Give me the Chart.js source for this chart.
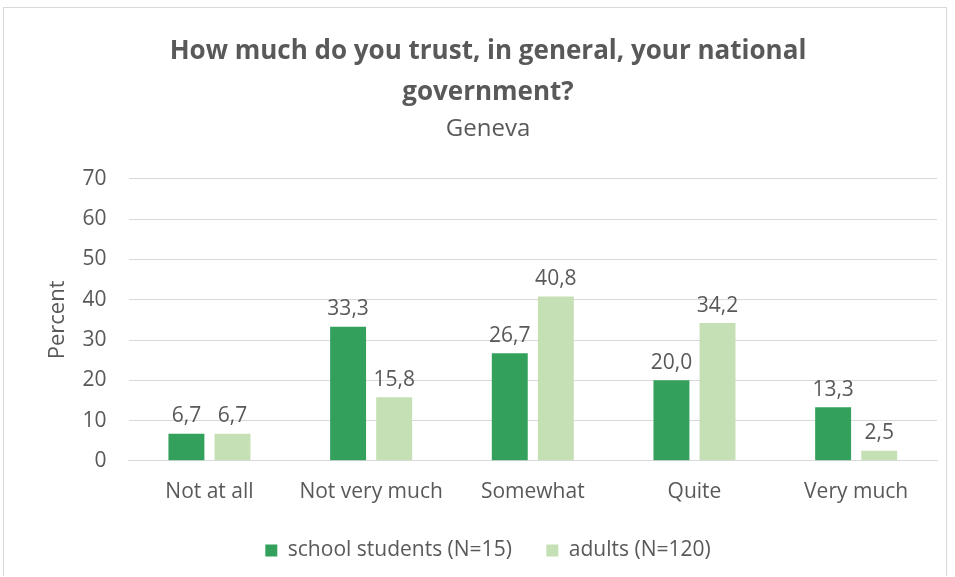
<!DOCTYPE html>
<html lang="en">
    <head>
        <meta charset="UTF-8" />
        <title>Trust in national government - Geneva</title>
        <script src="https://cdn.jsdelivr.net/npm/chart.js"></script>
        <style>
            body {
                margin: 0;
                background: #ffffff;
            }
            .chart-container {
                position: absolute;
                left: 3px;
                top: 7px;
                width: 944px;
                height: 569px;
                border: 1px solid #d9d9d9;
                border-bottom: none;
                box-sizing: border-box;
            }
            canvas {
                height: 100%;
                width: 100%;
            }
        </style>
    </head>
    <body>
        <div class="chart-container">
            <canvas id="trustChart"></canvas>
        </div>

        <script>
            const categories = ["Not at all", "Not very much", "Somewhat", "Quite", "Very much"];
            const students = [6.7, 33.3, 26.7, 20.0, 13.3];
            const adults = [6.7, 15.8, 40.8, 34.2, 2.5];
            const seriesNames = ["school students (N=15)", "adults (N=120)"];

            const textColor = "#595959";
            const fontFamily = "'Open Sans', sans-serif";

            // draws the value above every bar, with a comma as decimal mark
            const valueLabels = {
                id: "valueLabels",
                afterDatasetsDraw(chart) {
                    const ctx = chart.ctx;
                    ctx.save();
                    ctx.font = "21px " + fontFamily;
                    ctx.fillStyle = textColor;
                    ctx.textAlign = "center";
                    ctx.textBaseline = "bottom";
                    chart.data.datasets.forEach((ds, i) => {
                        chart.getDatasetMeta(i).data.forEach((bar, j) => {
                            const txt = ds.data[j].toFixed(1).replace(".", ",");
                            ctx.fillText(txt, bar.x, bar.y - 7);
                        });
                    });
                    ctx.restore();
                },
            };

            const ctx = document.getElementById("trustChart").getContext("2d");
            new Chart(ctx, {
                type: "bar",
                data: {
                    labels: categories,
                    datasets: [
                        {
                            label: seriesNames[0],
                            data: students,
                            backgroundColor: "#33a05b",
                            barPercentage: 0.78,
                            categoryPercentage: 0.57,
                        },
                        {
                            label: seriesNames[1],
                            data: adults,
                            backgroundColor: "#c5e0b4",
                            barPercentage: 0.78,
                            categoryPercentage: 0.57,
                        },
                    ],
                },
                options: {
                    responsive: true,
                    maintainAspectRatio: false,
                    animation: false,
                    layout: {
                        padding: { left: 35, right: 9, top: 15, bottom: 5 },
                    },
                    plugins: {
                        title: {
                            display: true,
                            text: ["How much do you trust, in general, your national", "government?"],
                            color: textColor,
                            font: { family: fontFamily, size: 26, weight: "bold", lineHeight: 1.58 },
                            padding: { top: 8, bottom: 2 },
                        },
                        subtitle: {
                            display: true,
                            text: "Geneva",
                            color: textColor,
                            font: { family: fontFamily, size: 24 },
                            padding: { top: 0, bottom: 35 },
                        },
                        legend: {
                            position: "bottom",
                            labels: {
                                color: textColor,
                                font: { family: fontFamily, size: 21 },
                                boxWidth: 12,
                                boxHeight: 12,
                                padding: 24,
                                // a little extra room between the two entries
                                generateLabels(chart) {
                                    const items = Chart.defaults.plugins.legend.labels.generateLabels(chart);
                                    items[0].text += "\u2002";
                                    return items;
                                },
                            },
                        },
                        tooltip: { enabled: false },
                    },
                    scales: {
                        x: {
                            grid: { display: false },
                            border: { color: "#d9d9d9" },
                            ticks: {
                                color: textColor,
                                font: { family: fontFamily, size: 21 },
                                padding: 11,
                            },
                        },
                        y: {
                            min: 0,
                            max: 70,
                            border: { display: false },
                            grid: { color: "#d9d9d9", drawTicks: false },
                            ticks: {
                                stepSize: 10,
                                color: textColor,
                                font: { family: fontFamily, size: 21 },
                                padding: 22,
                            },
                            title: {
                                display: true,
                                text: "Percent",
                                color: textColor,
                                font: { family: fontFamily, size: 22, lineHeight: 0.3 },
                                padding: { top: 15, bottom: 0 },
                            },
                        },
                    },
                },
                plugins: [valueLabels],
            });
        </script>
    </body>
</html>
